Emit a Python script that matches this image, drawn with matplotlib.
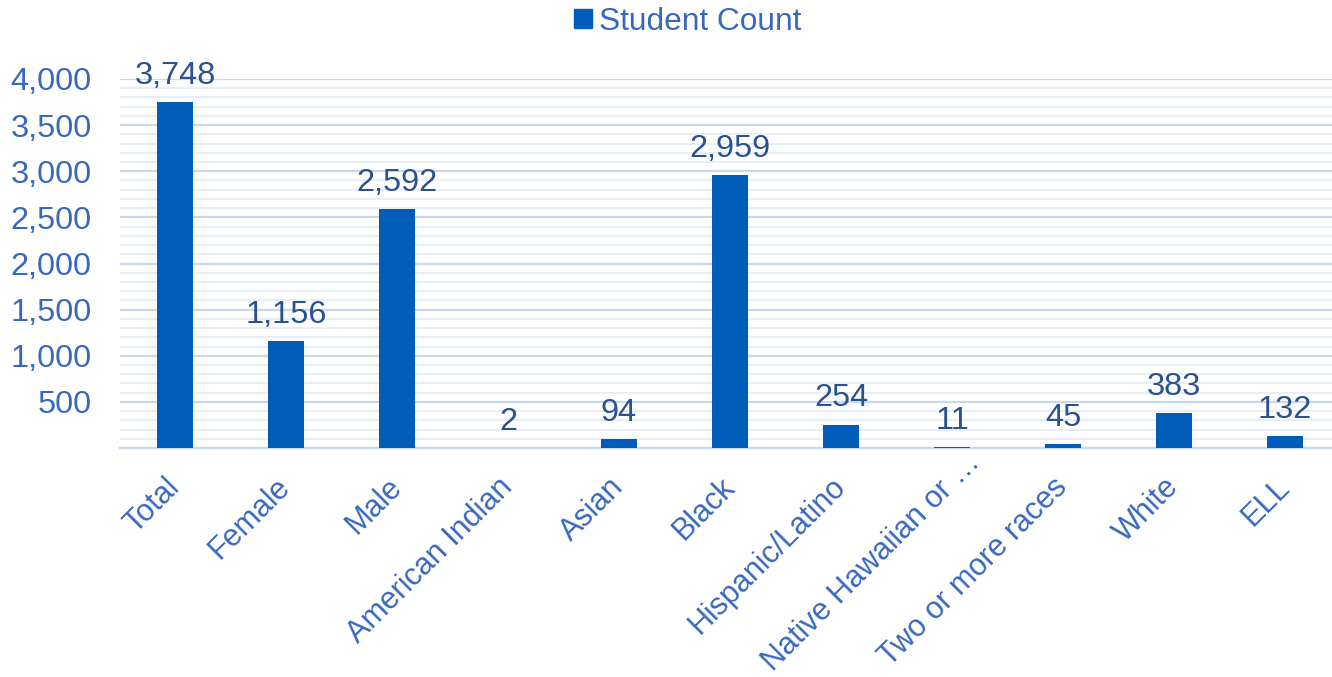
import matplotlib
matplotlib.use("Agg")
import matplotlib.pyplot as plt
from matplotlib.ticker import MultipleLocator, FuncFormatter
from matplotlib.patches import Patch
from matplotlib.transforms import ScaledTranslation

categories = ["Total", "Female", "Male", "American Indian", "Asian", "Black",
              "Hispanic/Latino", "Native Hawaiian or \u2026", "Two or more races",
              "White", "ELL"]
student_count = [3748, 1156, 2592, 2, 94, 2959, 254, 11, 45, 383, 132]
series_name = "Student Count"

bar_color = "#005CB9"
tick_color = "#3767BF"
label_color = "#2A5190"

plt.rcParams['font.family'] = ['Liberation Sans', 'DejaVu Sans']

fig = plt.figure(figsize=(13.32, 6.77), dpi=100)
left = 119.5
width = 11 * 111
ax = fig.add_axes([left/1332, 1 - 448/677, width/1332, (448-79)/677])

x = range(len(categories))
bars = ax.bar(x, student_count, width=0.333, color=bar_color, zorder=3)
ax.set_xlim(-0.5, len(categories) - 0.5)
ax.set_ylim(0, 4000)

ax.yaxis.set_major_locator(MultipleLocator(500))
ax.yaxis.set_minor_locator(MultipleLocator(100))
ax.yaxis.set_major_formatter(FuncFormatter(lambda v, p: "" if v == 0 else f"{int(v):,}"))
ax.grid(axis='y', which='major', color="#C9D8EF", linewidth=1.6, zorder=0)
ax.grid(axis='y', which='minor', color="#E8EEF8", linewidth=1.4, zorder=0)
for s in ["top", "right", "left"]:
    ax.spines[s].set_visible(False)
ax.spines["bottom"].set_color("#C9D8EF")
ax.spines["bottom"].set_linewidth(1.6)
ax.tick_params(axis='y', which='both', length=0, labelsize=23.4, labelcolor=tick_color, pad=20)
ax.tick_params(axis='x', length=0, labelsize=22.0, labelcolor=tick_color, pad=25)
ax.set_xticks(list(x))
ax.set_xticklabels(categories, rotation=45, ha='right', va='center',
                   rotation_mode='anchor')

# the truncated label sits further along its baseline in the reference
for lbl in ax.get_xticklabels():
    if lbl.get_text().startswith("Native"):
        lbl.set_transform(lbl.get_transform() + ScaledTranslation(0.24, 0.25, fig.dpi_scale_trans))

for xi, v in zip(x, student_count):
    ax.annotate(f"{v:,}", (xi, v), xytext=(0, 8), textcoords='offset points',
                ha='center', va='bottom', fontsize=23.4, color=label_color, clip_on=False)

fig.legend(handles=[Patch(color=bar_color, label=series_name)], loc='center',
           bbox_to_anchor=(688/1332, 1 - 22/677), frameon=False, fontsize=22.8,
           labelcolor=tick_color, handlelength=0.55, handleheight=0.55, handletextpad=0.25)

fig.savefig("out.png", dpi=100)
